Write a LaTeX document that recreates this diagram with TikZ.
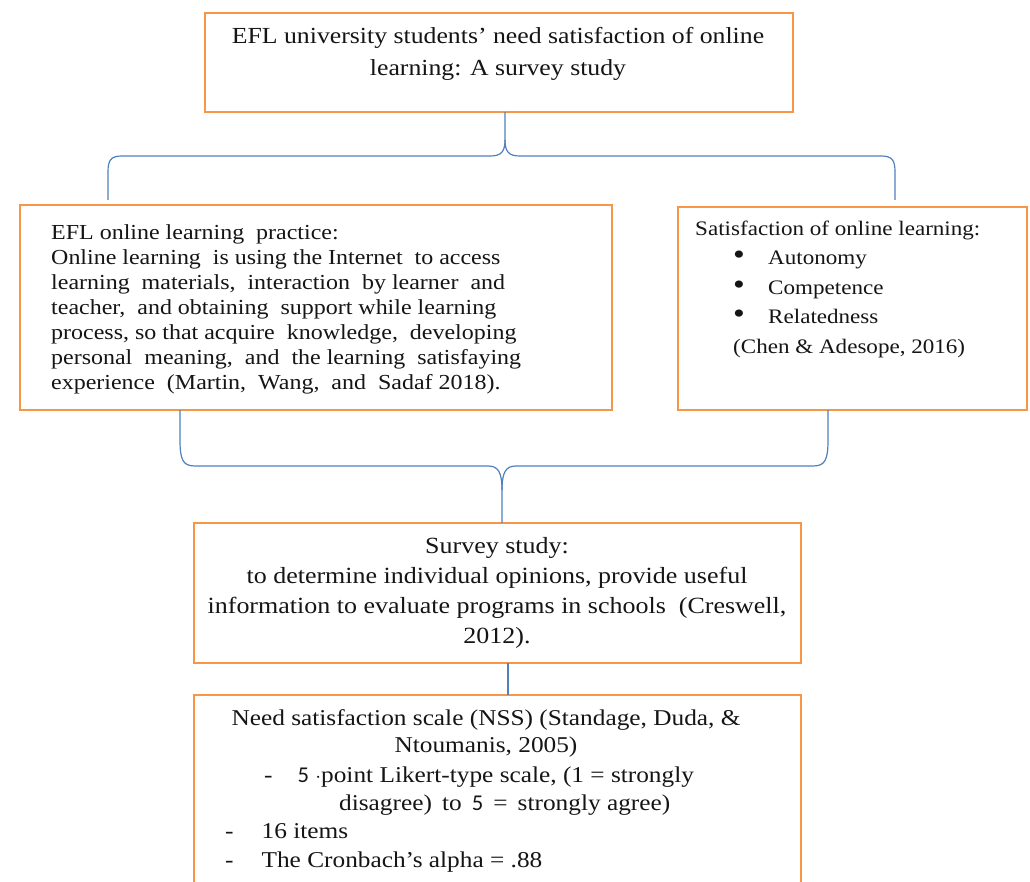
\documentclass[tikz,border=0pt]{standalone}
\usepackage{fontspec}
\setmainfont{Liberation Serif}[FakeStretch=1.12]
\newfontfamily\digitfont{Carlito}
\definecolor{boxorange}{HTML}{F79646}
\definecolor{connblue}{HTML}{4F81BD}
\definecolor{txtgray}{HTML}{151515}
\begin{document}
\begin{tikzpicture}[x=1pt,y=-1pt,
  box/.style={draw=boxorange,line width=2.6pt,anchor=north west,inner sep=0pt,outer sep=0pt},
  conn/.style={draw=connblue,line width=1.2pt},
  txt/.style={text=txtgray,inner sep=0pt}]
\useasboundingbox (0,0) rectangle (1030,882);
\fill[white] (0,0) rectangle (1030,882);
\begin{scope}
\clip (0,0) rectangle (1030,882);
% boxes
\node[box,minimum width=588pt,minimum height=99pt] (top) at (205,13) {};
\node[box,minimum width=592pt,minimum height=205pt] (left) at (20,205) {};
\node[box,minimum width=349pt,minimum height=203pt] (right) at (678,207) {};
\node[box,minimum width=607pt,minimum height=140pt] (survey) at (194,523) {};
\node[box,minimum width=607pt,minimum height=230pt] (nss) at (194,695) {};
% coordinates
\coordinate (la) at (108,200);
\coordinate (ra) at (895,200);
\coordinate (lb) at (180,410);
\coordinate (rb) at (828,410);
% top brace
\draw[conn] (top.south -| 505,0) -- (505,140) .. controls (505,152) and (501,156) .. (490,156)
  -- (122,156) .. controls (111,156) and (108,160) .. (108,172) -- (la);
\draw[conn] (505,140) .. controls (505,152) and (509,156) .. (520,156)
  -- (881,156) .. controls (892,156) and (895,160) .. (895,172) -- (ra);
% bottom brace
\draw[conn] (lb) -- (180,440) .. controls (180,460) and (183,466) .. (195,466)
  -- (488,466) .. controls (498,466) and (502,472) .. (502,490) -- (survey.north -| 502,0);
\draw[conn] (rb) -- (828,440) .. controls (828,460) and (825,466) .. (813,466)
  -- (516,466) .. controls (506,466) and (502,472) .. (502,490);
% survey to nss
\draw[conn] (survey.south -| 508,0) -- (nss.north -| 508,0);
% texts
\node[txt,align=center,font=\fontsize{23}{32}\selectfont] (ttop) at (498,54)
  {EFL university students' need satisfaction of online\\learning: A survey study};
\node[txt,align=left,anchor=west,font=\fontsize{21.4}{25}\selectfont] (tleft) at (51,309)
  {EFL online learning\ \ practice:\\
   Online learning\ \ is using the Internet\ \ to access\\
   learning\ \ materials,\ \ interaction\ \ by learner\ \ and\\
   teacher,\ \ and obtaining\ \ support while learning\\
   process, so that acquire\ \ knowledge,\ \ developing\\
   personal\ \ meaning,\ \ and\ \ the learning\ \ satisfaying\\
   experience\ \ (Martin,\ \ Wang,\ \ and\ \ Sadaf 2018).};
\node[txt,align=left,anchor=west,font=\fontsize{20.6}{29.5}\selectfont] (tright) at (695,289)
  {Satisfaction of online learning:\\
   \hspace*{38pt}\makebox[35pt][l]{\fontsize{30}{30}\selectfont\textbullet}Autonomy\\
   \hspace*{38pt}\makebox[35pt][l]{\fontsize{30}{30}\selectfont\textbullet}Competence\\
   \hspace*{38pt}\makebox[35pt][l]{\fontsize{30}{30}\selectfont\textbullet}Relatedness\\
   \hspace*{38pt}(Chen \& Adesope, 2016)};
\node[txt,align=center,font=\fontsize{23.2}{30}\selectfont] (tsurvey) at (497,592.5)
  {Survey study:\\to determine individual opinions, provide useful\\
   information to evaluate programs in schools\ \ (Creswell,\\2012).};
\node[txt,align=center,font=\fontsize{22.6}{27}\selectfont] (tn1) at (486,733.5)
  {Need satisfaction scale (NSS) (Standage, Duda, \&\\Ntoumanis, 2005)};
\node[txt,anchor=west,font=\fontsize{22.6}{27}\selectfont] (tn3) at (264,777)
  {\strut-\hspace{25pt}{\digitfont 5}\ $\cdot$point Likert-type scale,\ (1 = strongly};
\node[txt,anchor=west,font=\fontsize{22.6}{27}\selectfont] (tn4) at (339,805)
  {\strut disagree)\ \,to\ \,{\digitfont 5}\ \,=\ \,strongly agree)};
\node[txt,anchor=west,font=\fontsize{22.6}{27}\selectfont] (tn5) at (225,833)
  {\strut-\hspace{28pt}16 items};
\node[txt,anchor=west,font=\fontsize{22.6}{27}\selectfont] (tn6) at (225,862)
  {\strut-\hspace{28pt}The Cronbach's alpha = .88};
\end{scope}
\end{tikzpicture}
\end{document}
